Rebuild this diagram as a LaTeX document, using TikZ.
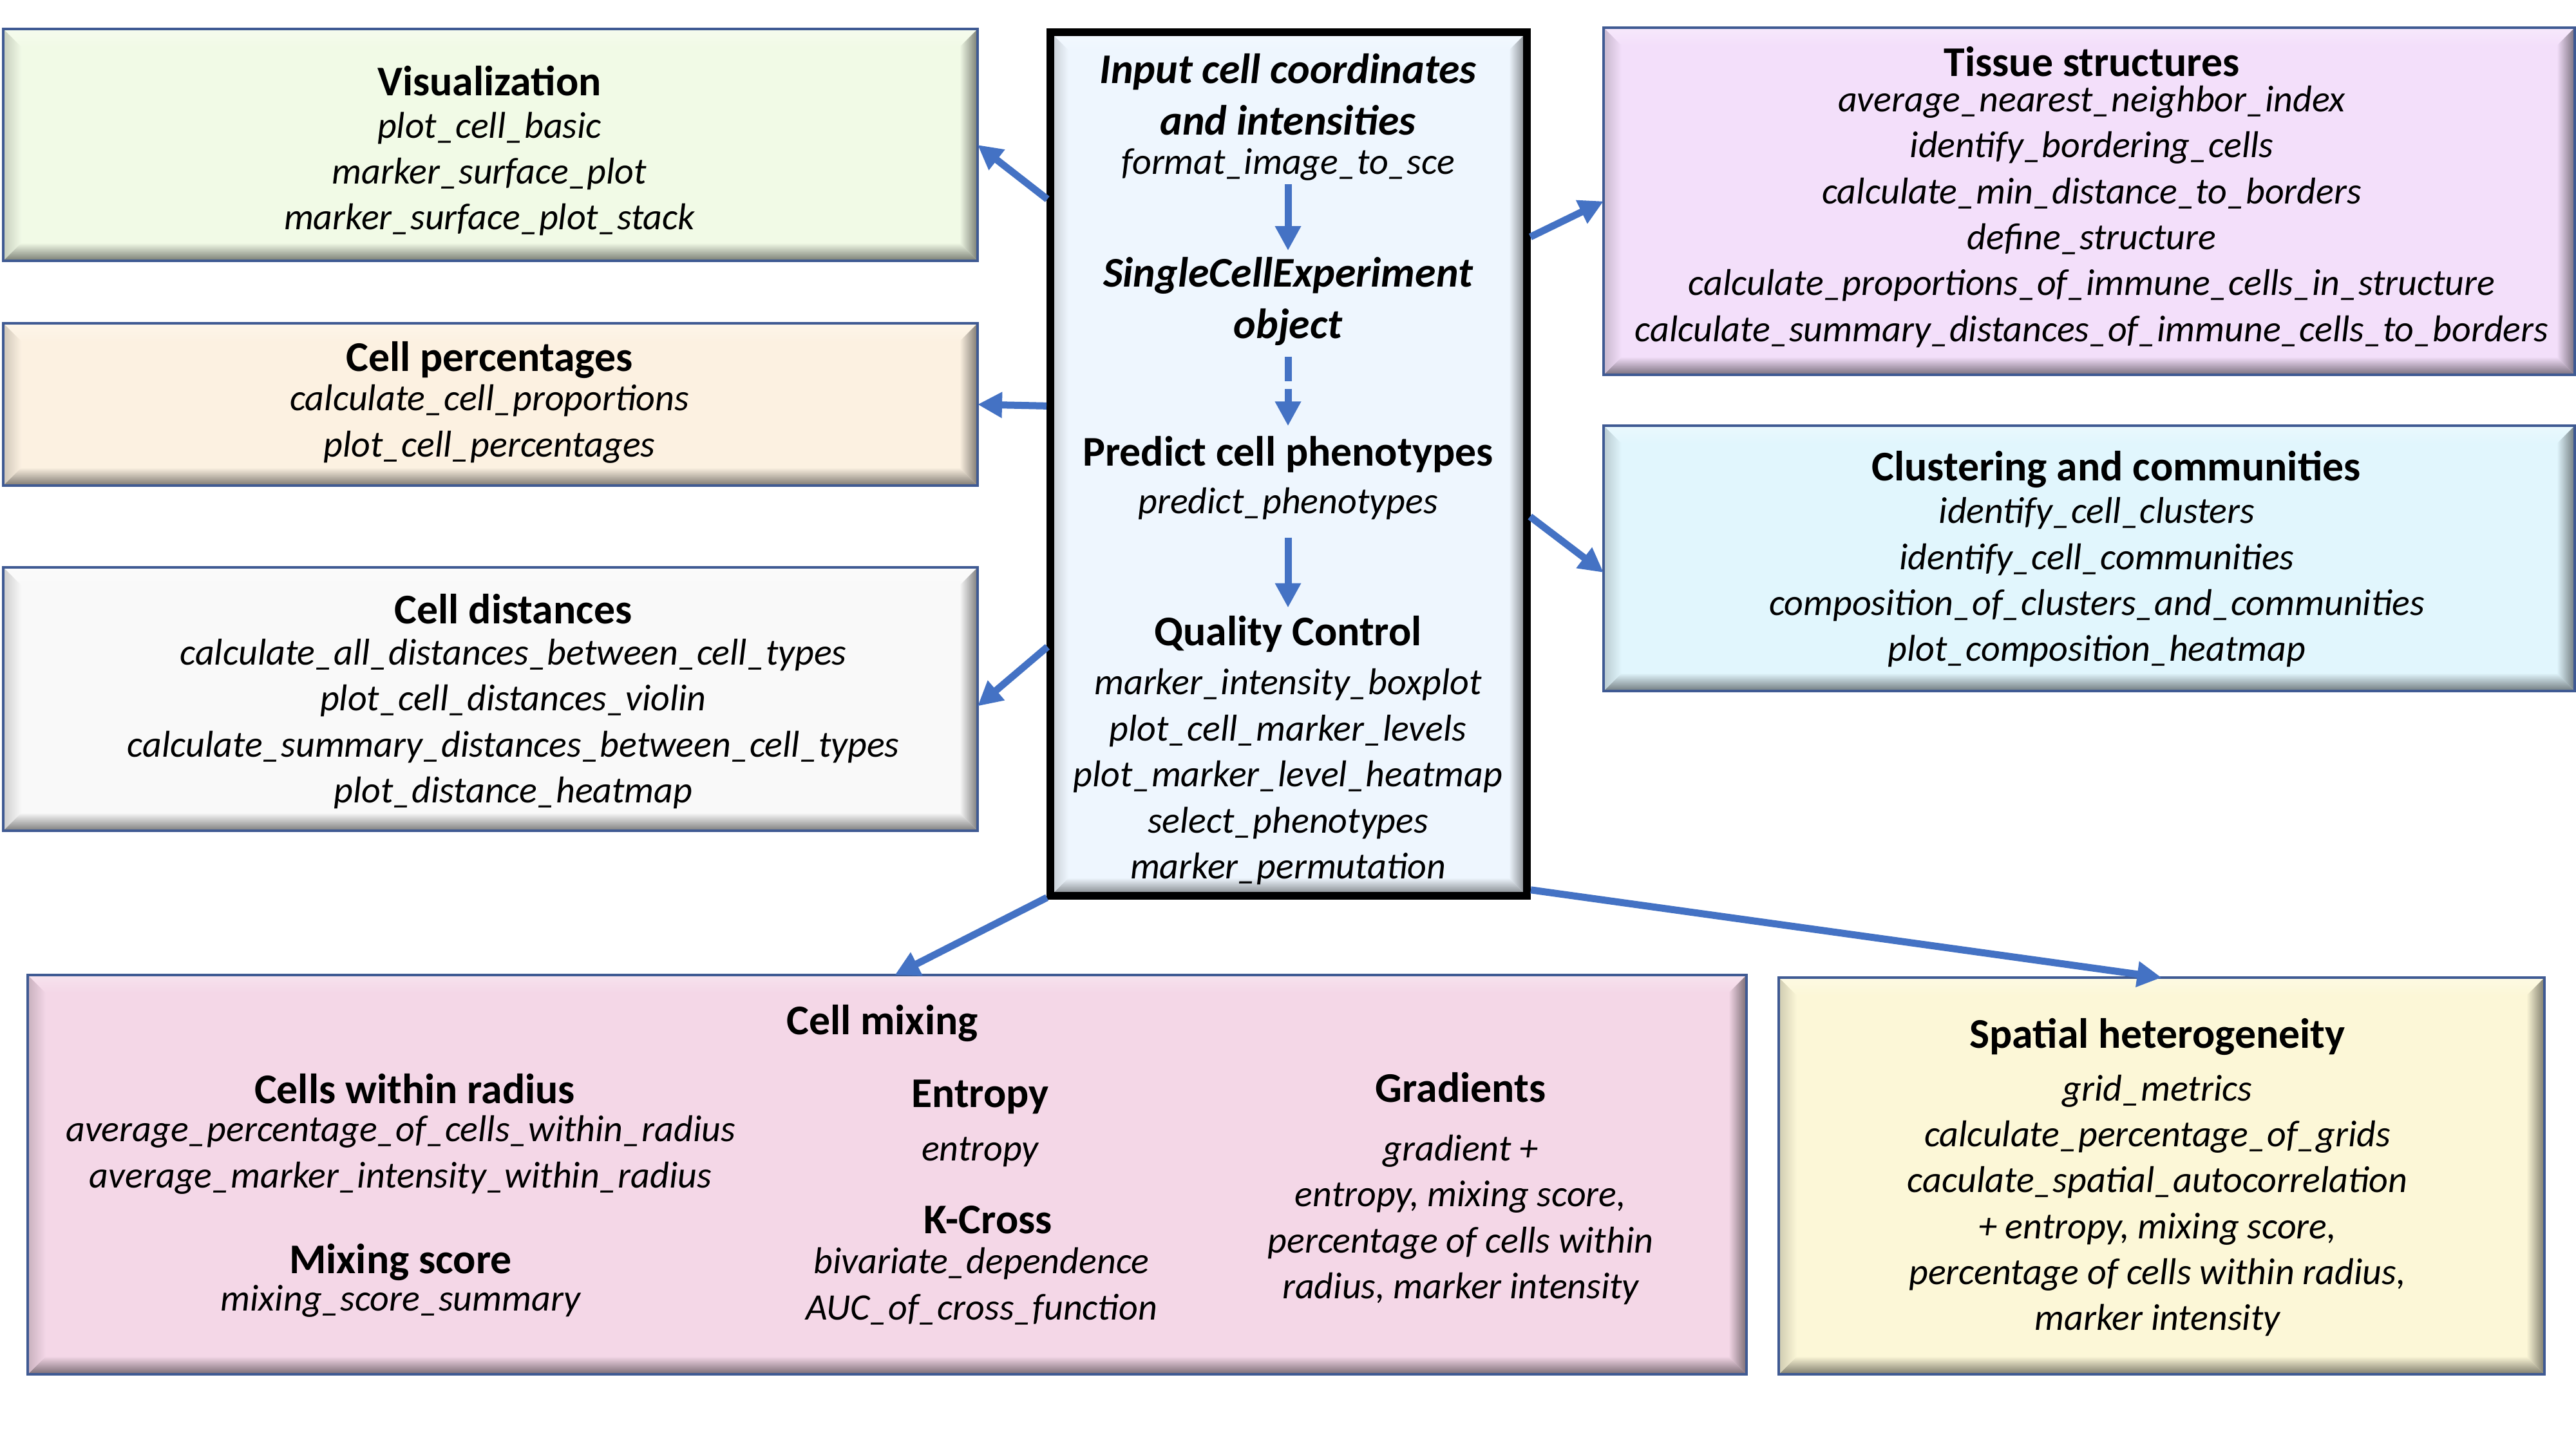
\documentclass[tikz,border=0pt]{standalone}
\usepackage{fontspec}
\setmainfont{Carlito}
\usetikzlibrary{arrows.meta,calc}
\definecolor{bord}{HTML}{3F5A93}
\definecolor{ablue}{HTML}{4472C4}
\definecolor{cvis}{HTML}{F1FAE6}
\definecolor{cpct}{HTML}{FCF1E1}
\definecolor{cdist}{HTML}{F9F9F9}
\definecolor{ccen}{HTML}{EEF6FE}
\definecolor{ctis}{HTML}{F3DFFA}
\definecolor{cclu}{HTML}{E1F6FD}
\definecolor{cmix}{HTML}{F4D7E7}
\definecolor{cspa}{HTML}{FCF7D7}
\newcommand\hd[1]{{\fontsize{18.7pt}{20.3pt}\selectfont\bfseries\upshape #1}}
\newcommand\hdi[1]{{\fontsize{18.7pt}{22.5pt}\selectfont\bfseries\itshape #1}}
\newlength\bvl \setlength\bvl{0.28cm}
\tikzset{
 bevelbox/.style={rectangle, inner sep=0pt, outer sep=0pt, fill=#1, draw=bord, line width=0.045cm,
  path picture={
   \coordinate (pnw) at (path picture bounding box.north west);
   \coordinate (pne) at (path picture bounding box.north east);
   \coordinate (psw) at (path picture bounding box.south west);
   \coordinate (pse) at (path picture bounding box.south east);
   \shade[top color=#1!70!white, middle color=white, bottom color=#1] (pnw) -- (pne) -- ([shift={(-\bvl,-\bvl)}]pne) -- ([shift={(\bvl,-\bvl)}]pnw) -- cycle;
   \shade[top color=#1, bottom color=#1!50!black] (psw) -- (pse) -- ([shift={(-\bvl,\bvl)}]pse) -- ([shift={(\bvl,\bvl)}]psw) -- cycle;
   \shade[left color=#1!82!black, right color=#1] (pnw) -- (psw) -- ([shift={(\bvl,\bvl)}]psw) -- ([shift={(\bvl,-\bvl)}]pnw) -- cycle;
   \shade[left color=#1, right color=#1!50!black] (pne) -- (pse) -- ([shift={(-\bvl,\bvl)}]pse) -- ([shift={(-\bvl,-\bvl)}]pne) -- cycle;
  }},
 txt/.style={font=\fontsize{16.5pt}{20.3pt}\selectfont\itshape, align=center, inner sep=0pt, text=black},
 arr/.style={draw=ablue, line width=0.11cm, -{Triangle[length=0.38cm, width=0.38cm]}},
 dasharr/.style={arr, dash pattern=on 0.38cm off 0.12cm},
}
\begin{document}
\begin{tikzpicture}
\fill[white] (0,0) rectangle (40,-22.5);
\useasboundingbox (0,0) rectangle (40,-22.5);

% boxes
\node[bevelbox=cvis, minimum width=15.13cm, minimum height=3.60cm] (vis) at (7.615,-2.25) {};
\node[bevelbox=cpct, minimum width=15.13cm, minimum height=2.52cm] (pct) at (7.615,-6.28) {};
\node[bevelbox=cdist, minimum width=15.13cm, minimum height=4.09cm] (dist) at (7.615,-10.855) {};
\node[bevelbox=ccen, draw=black, line width=0.12cm, minimum width=7.40cm, minimum height=13.41cm] (cen) at (20.01,-7.205) {};
\node[bevelbox=ctis, minimum width=15.08cm, minimum height=5.39cm] (tis) at (32.44,-3.125) {};
\node[bevelbox=cclu, minimum width=15.08cm, minimum height=4.12cm] (clu) at (32.44,-8.67) {};
\node[bevelbox=cmix, minimum width=26.69cm, minimum height=6.20cm] (mix) at (13.775,-18.24) {};
\node[bevelbox=cspa, minimum width=11.89cm, minimum height=6.16cm] (spa) at (33.565,-18.26) {};

% texts
\node[txt] (tvis) at (7.60,-2.34) {\hd{Visualization}\\[-1.5pt] plot\_cell\_basic\\ marker\_surface\_plot\\ marker\_surface\_plot\_stack};
\node[txt] (tpct) at (7.60,-6.25) {\hd{Cell percentages}\\[-2.9pt] calculate\_cell\_proportions\\ plot\_cell\_percentages};
\node[txt] (tdist) at (7.97,-10.89) {\hd{Cell distances}\\[-2pt] calculate\_all\_distances\_between\_cell\_types\\ plot\_cell\_distances\_violin\\ calculate\_summary\_distances\_between\_cell\_types\\ plot\_distance\_heatmap};
\node[txt] (c1) at (20.0,-1.82) {\hdi{Input cell coordinates}\\[2.2pt] \hdi{and intensities}\\[-2.9pt] format\_image\_to\_sce};
\node[txt] (c2) at (20.0,-4.68) {\hdi{SingleCellExperiment}\\[2.2pt] \hdi{object}};
\node[txt] (c3) at (20.0,-7.42) {\hd{Predict cell phenotypes}\\[0.8pt] predict\_phenotypes};
\node[txt] (c4) at (20.0,-11.65) {\hd{Quality Control}\\[1.5pt] marker\_intensity\_boxplot\\ plot\_cell\_marker\_levels\\ plot\_marker\_level\_heatmap\\ select\_phenotypes\\ marker\_permutation};
\node[txt] (ttis) at (32.48,-3.06) {\hd{Tissue structures}\\[-4.6pt] average\_nearest\_neighbor\_index\\ identify\_bordering\_cells\\ calculate\_min\_distance\_to\_borders\\ define\_structure\\ calculate\_proportions\_of\_immune\_cells\_in\_structure\\ calculate\_summary\_distances\_of\_immune\_cells\_to\_borders};
\node[txt] (tclu) at (32.56,-8.68) {\hspace*{0.6cm}\hd{Clustering and communities}\\[-1.3pt] identify\_cell\_clusters\\ identify\_cell\_communities\\ composition\_of\_clusters\_and\_communities\\ plot\_composition\_heatmap};
\node[txt] (mt) at (13.70,-15.89) {\hd{Cell mixing}};
\node[txt] (mcwr) at (6.22,-17.605) {\hspace*{0.44cm}\hd{Cells within radius}\\[-3.3pt] average\_percentage\_of\_cells\_within\_radius\\ average\_marker\_intensity\_within\_radius};
\node[txt] (mms) at (6.22,-19.88) {\hd{Mixing score}\\[-3.8pt] mixing\_score\_summary};
\node[txt] (ment) at (15.22,-17.445) {\hd{Entropy}\\[3.3pt] entropy};
\node[txt] (mkc) at (15.24,-19.645) {\hspace*{0.2cm}\hd{K-Cross}\\[-2.4pt] bivariate\_dependence\\ AUC\_of\_cross\_function};
\node[txt] (mgr) at (22.68,-18.455) {\hd{Gradients}\\[5.6pt] gradient +\\ entropy, mixing score,\\ percentage of cells within\\ radius, marker intensity};
\node[txt] (tspa) at (33.50,-18.28) {\hd{Spatial heterogeneity}\\[3pt] grid\_metrics\\ calculate\_percentage\_of\_grids\\ caculate\_spatial\_autocorrelation\\ + entropy, mixing score,\\ percentage of cells within radius,\\ marker intensity};

% connectors
\draw[arr, shorten <=0.06cm] ([yshift=-2.63cm]cen.north west) -- (vis.east);
\draw[arr, shorten <=0.06cm] ([yshift=0.9cm]cen.west) -- (pct.east);
\draw[arr, shorten <=0.06cm] ([yshift=-2.8cm]cen.west) -- ([yshift=-0.11cm]dist.east);
\draw[arr, shorten <=0.06cm] ([yshift=3.5cm]cen.east) -- (tis.west);
\draw[arr, shorten <=0.06cm] ([yshift=-0.78cm]cen.east) -- ([yshift=-0.22cm]clu.west);
\draw[arr, shorten <=0.06cm] (cen.south west) -- ([xshift=0.12cm]mix.north);
\draw[arr, shorten <=0.06cm] ([yshift=0.1cm]cen.south east) -- (spa.north);
\draw[arr, shorten <=0.05cm, shorten >=0.1cm] (c1) -- (c2);
\draw[dasharr, shorten <=0.17cm, shorten >=0.15cm] (c2) -- (c3);
\draw[arr, shorten <=0.27cm, shorten >=0.12cm] (c3) -- (c4);
\end{tikzpicture}
\end{document}
